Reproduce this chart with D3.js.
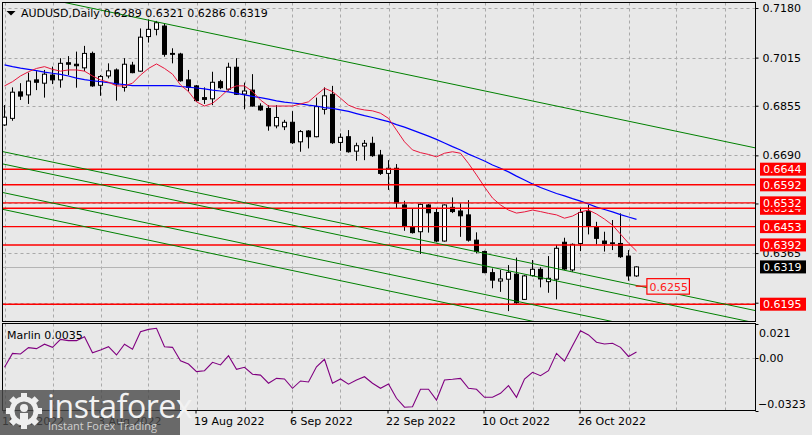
<!DOCTYPE html>
<html><head><meta charset="utf-8">
<script src="https://cdn.jsdelivr.net/npm/d3@7"></script>
<style>
html,body{margin:0;padding:0;background:#e8e8e8;overflow:hidden;}
svg{display:block;font-family:"DejaVu Sans",sans-serif;}
</style></head><body>
<svg id="c" width="812" height="435"></svg>
<script>
// ---------------- DATA ----------------
const symbolTitle = "AUDUSD,Daily";
const dates = [
"2022-07-18","2022-07-19","2022-07-20","2022-07-21","2022-07-22","2022-07-25","2022-07-26","2022-07-27","2022-07-28","2022-07-29",
"2022-08-01","2022-08-02","2022-08-03","2022-08-04","2022-08-05","2022-08-08","2022-08-09","2022-08-10","2022-08-11","2022-08-12",
"2022-08-15","2022-08-16","2022-08-17","2022-08-18","2022-08-19","2022-08-22","2022-08-23","2022-08-24","2022-08-25","2022-08-26",
"2022-08-29","2022-08-30","2022-08-31","2022-09-01","2022-09-02","2022-09-05","2022-09-06","2022-09-07","2022-09-08","2022-09-09",
"2022-09-12","2022-09-13","2022-09-14","2022-09-15","2022-09-16","2022-09-19","2022-09-20","2022-09-21","2022-09-22","2022-09-23",
"2022-09-26","2022-09-27","2022-09-28","2022-09-29","2022-09-30","2022-10-03","2022-10-04","2022-10-05","2022-10-06","2022-10-07",
"2022-10-10","2022-10-11","2022-10-12","2022-10-13","2022-10-14","2022-10-17","2022-10-18","2022-10-19","2022-10-20","2022-10-21",
"2022-10-24","2022-10-25","2022-10-26","2022-10-27","2022-10-28","2022-10-31","2022-11-01","2022-11-02","2022-11-03","2022-11-04"];
const opens = [0.6791,0.6813,0.6901,0.6891,0.6941,0.6930,0.6957,0.6941,0.6998,0.6993,
0.6981,0.7029,0.6923,0.6954,0.6974,0.6916,0.6990,0.6970,0.7085,0.7109,
0.7120,0.7029,0.7027,0.6941,0.6921,0.6882,0.6878,0.6935,0.6910,0.6983,
0.6894,0.6907,0.6854,0.6846,0.6788,0.6785,0.6800,0.6735,0.6771,0.6752,
0.6843,0.6893,0.6733,0.6752,0.6704,0.6721,0.6730,0.6691,0.6630,0.6647,
0.6525,0.6453,0.6436,0.6525,0.6500,0.6405,0.6517,0.6505,0.6492,0.6408,
0.6370,0.6300,0.6272,0.6278,0.6295,0.6211,0.6290,0.6311,0.6270,0.6278,
0.6401,0.6309,0.6397,0.6503,0.6453,0.6405,0.6399,0.6397,0.6355,0.6289];
const highs = [0.6857,0.6916,0.6930,0.6965,0.6970,0.6974,0.6985,0.7013,0.7020,0.7035,
0.7054,0.7035,0.6957,0.6996,0.6979,0.7013,0.7001,0.7112,0.7142,0.7137,
0.7127,0.7046,0.7031,0.6974,0.6924,0.6916,0.6968,0.6941,0.6998,0.7013,
0.6932,0.6960,0.6863,0.6857,0.6857,0.6808,0.6837,0.6774,0.6774,0.6882,
0.6916,0.6921,0.6763,0.6774,0.6732,0.6741,0.6752,0.6708,0.6674,0.6661,
0.6539,0.6514,0.6530,0.6528,0.6514,0.6527,0.6550,0.6530,0.6541,0.6434,
0.6373,0.6314,0.6309,0.6325,0.6350,0.6292,0.6342,0.6318,0.6355,0.6392,
0.6416,0.6397,0.6514,0.6525,0.6469,0.6436,0.6475,0.6497,0.6375,0.6321];
const lows = [0.6788,0.6805,0.6874,0.6861,0.6907,0.6882,0.6927,0.6915,0.6957,0.6915,
0.6970,0.6918,0.6888,0.6946,0.6872,0.6902,0.6963,0.6968,0.7065,0.7089,
0.7018,0.6996,0.6935,0.6902,0.6868,0.6861,0.6857,0.6910,0.6905,0.6891,
0.6843,0.6852,0.6838,0.6772,0.6780,0.6774,0.6728,0.6702,0.6713,0.6750,
0.6826,0.6728,0.6705,0.6699,0.6672,0.6674,0.6685,0.6625,0.6575,0.6514,
0.6439,0.6430,0.6362,0.6433,0.6401,0.6403,0.6498,0.6419,0.6403,0.6364,
0.6298,0.6248,0.6236,0.6172,0.6196,0.6209,0.6287,0.6251,0.6233,0.6211,
0.6309,0.6303,0.6372,0.6427,0.6394,0.6370,0.6375,0.6349,0.6273,0.6286];
const closes = [0.6817,0.6900,0.6887,0.6937,0.6933,0.6960,0.6941,0.6996,0.6993,0.6988,
0.7029,0.6921,0.6952,0.6971,0.6927,0.6993,0.6965,0.7083,0.7109,0.7131,
0.7026,0.7026,0.6938,0.6916,0.6872,0.6876,0.6933,0.6915,0.6983,0.6893,
0.6904,0.6854,0.6841,0.6788,0.6816,0.6800,0.6732,0.6769,0.6752,0.6852,
0.6888,0.6732,0.6750,0.6702,0.6722,0.6730,0.6689,0.6630,0.6647,0.6532,
0.6456,0.6433,0.6527,0.6499,0.6405,0.6525,0.6503,0.6489,0.6408,0.6370,
0.6300,0.6275,0.6279,0.6301,0.6200,0.6289,0.6311,0.6279,0.6281,0.6381,
0.6312,0.6394,0.6500,0.6455,0.6414,0.6397,0.6397,0.6353,0.6289,0.6319];
// red (fast) moving average
const maFast = [0.6921,0.6935,0.6954,0.6968,0.6979,0.6985,0.6976,0.6970,0.6974,0.6974,
0.6970,0.6954,0.6941,0.6933,0.6921,0.6921,0.6930,0.6957,0.6979,0.6994,
0.6979,0.6960,0.6924,0.6902,0.6868,0.6854,0.6863,0.6885,0.6910,0.6921,
0.6921,0.6902,0.6874,0.6854,0.6854,0.6854,0.6854,0.6861,0.6868,0.6891,
0.6913,0.6902,0.6880,0.6857,0.6846,0.6841,0.6838,0.6830,0.6813,0.6774,
0.6735,0.6708,0.6699,0.6693,0.6685,0.6697,0.6702,0.6697,0.6663,0.6625,
0.6585,0.6548,0.6525,0.6508,0.6498,0.6502,0.6508,0.6503,0.6497,0.6492,
0.6481,0.6488,0.6502,0.6508,0.6495,0.6478,0.6458,0.6428,0.6398,0.6372];
// blue (slow) moving average
const maSlow = [0.6991,0.6985,0.6980,0.6976,0.6972,0.6967,0.6963,0.6959,0.6954,0.6947,
0.6942,0.6938,0.6935,0.6932,0.6928,0.6925,0.6922,0.6922,0.6922,0.6922,
0.6922,0.6922,0.6919,0.6917,0.6914,0.6911,0.6907,0.6904,0.6901,0.6896,
0.6891,0.6886,0.6882,0.6877,0.6871,0.6867,0.6864,0.6861,0.6857,0.6854,
0.6849,0.6846,0.6841,0.6836,0.6829,0.6822,0.6816,0.6809,0.6802,0.6792,
0.6784,0.6774,0.6764,0.6754,0.6743,0.6731,0.6719,0.6708,0.6694,0.6683,
0.6671,0.6658,0.6647,0.6635,0.6621,0.6608,0.6595,0.6583,0.6573,0.6563,
0.6555,0.6546,0.6538,0.6528,0.6518,0.6510,0.6502,0.6493,0.6485,0.6477];
// Marlin oscillator
const marlin = [-0.0058,0.0027,0.0023,0.0062,0.0056,0.0083,0.0064,0.0113,0.0105,0.0105,
0.0129,0.0031,0.0048,0.0068,0.0017,0.0083,0.0052,0.0160,0.0174,0.0181,
0.0068,0.0064,-0.0018,-0.0038,-0.0085,-0.0079,-0.0028,-0.0044,0.0013,-0.0071,
-0.0058,-0.0101,-0.0106,-0.0156,-0.0126,-0.0130,-0.0187,-0.0142,-0.0148,-0.0055,
-0.0009,-0.0156,-0.0130,-0.0162,-0.0136,-0.0116,-0.0156,-0.0187,-0.0161,-0.0248,
-0.0303,-0.0300,-0.0193,-0.0193,-0.0259,-0.0136,-0.0132,-0.0126,-0.0187,-0.0193,
-0.0242,-0.0242,-0.0218,-0.0171,-0.0242,-0.0130,-0.0089,-0.0110,-0.0079,0.0027,
-0.0020,0.0074,0.0166,0.0140,0.0095,0.0084,0.0089,0.0064,0.0008,0.0035];
const marlinName = "Marlin";
const marlinRange = [-0.0323, 0.021];
const priceRange = [0.6195, 0.7180];
const priceTicks = [0.7180, 0.7015, 0.6855, 0.6690, 0.6530, 0.6365, 0.6200];
const timeTickDates = ["2022-07-18","2022-08-03","2022-08-19","2022-09-06","2022-09-22","2022-10-10","2022-10-26"];
const levelPrices = [0.6644, 0.6592, 0.6514, 0.6532, 0.6453, 0.6392, 0.6195];
// trend lines: start bar index / price, end bar index / price
const trendStartIdx = [6.5, -0.5, -0.5, -0.5, -0.5];
const trendStartPx  = [0.7204, 0.6704, 0.6663, 0.6568, 0.6512];
const trendEndIdx   = [94, 94, 94, 94, 94];
const trendEndPx    = [0.6714, 0.6173, 0.6132, 0.6036, 0.5981];
const markPrice = 0.6255, markFromIdx = 78.9, markIdx = 80.3;

// ---------------- LAYOUT ----------------
const svg = d3.select("#c");
const BG = "#e8e8e8";
const L = 2.5, R = 755.5, T = 2.5, B = 321.5, IT = 323.5, IB = 410.5;
const n = dates.length;
const x = d3.scaleLinear().domain([0, n - 1]).range([4.5, 4.5 + 8 * (n - 1)]);
const y = d3.scaleLinear().domain(priceRange).range([304.2, 8]);
const ym = d3.scaleLinear().domain(marlinRange).range([IB, IT]);
const parse = d3.timeParse("%Y-%m-%d"), fmtD = d3.timeFormat("%-d %b %Y");

svg.append("rect").attr("width", 812).attr("height", 435).attr("fill", BG);

const defs = svg.append("defs");
defs.append("clipPath").attr("id", "mainClip").append("rect").attr("x", L).attr("y", T).attr("width", R - L).attr("height", B - T);
defs.append("clipPath").attr("id", "indClip").append("rect").attr("x", L).attr("y", IT).attr("width", R - L).attr("height", IB - IT);

const main = svg.append("g").attr("clip-path", "url(#mainClip)");
const ind = svg.append("g").attr("clip-path", "url(#indClip)");
const gridColor = "#a9a9a9";

// vertical grid
const gridIdx = d3.range(0, 96, 6);
[[main, T, B], [ind, IT, IB]].forEach(([g, a, b]) => {
  g.selectAll(null).data(gridIdx).join("line")
    .attr("x1", d => Math.round(x(d)) + 0.5).attr("x2", d => Math.round(x(d)) + 0.5)
    .attr("y1", a).attr("y2", b).attr("stroke", gridColor).attr("stroke-dasharray", "3,3");
});
// horizontal grid main
main.selectAll(null).data(priceTicks).join("line")
  .attr("x1", L).attr("x2", R).attr("y1", d => Math.round(y(d)) + 0.5).attr("y2", d => Math.round(y(d)) + 0.5)
  .attr("stroke", gridColor).attr("stroke-dasharray", "3,3");
// indicator zero grid
ind.append("line").attr("x1", L).attr("x2", R).attr("y1", Math.round(ym(0)) + 0.5).attr("y2", Math.round(ym(0)) + 0.5)
  .attr("stroke", gridColor).attr("stroke-dasharray", "3,3");

// current price line
const last = closes[n - 1];
main.append("line").attr("x1", L).attr("x2", R).attr("y1", Math.round(y(last)) + 0.5).attr("y2", Math.round(y(last)) + 0.5)
  .attr("stroke", "#b4b4b4");

// candles
const idx = d3.range(n);
const cg = main.append("g");
cg.selectAll(null).data(idx).join("line")
  .attr("x1", i => x(i)).attr("x2", i => x(i))
  .attr("y1", i => y(highs[i])).attr("y2", i => y(lows[i]))
  .attr("stroke", "#000").attr("stroke-width", 1);
cg.selectAll(null).data(idx).join("rect")
  .attr("x", i => x(i) - 2)
  .attr("width", 4)
  .attr("y", i => y(Math.max(opens[i], closes[i])))
  .attr("height", i => Math.max(0.01, Math.abs(y(opens[i]) - y(closes[i]))))
  .attr("fill", i => closes[i] >= opens[i] ? "#fff" : "#000")
  .attr("stroke", "#000").attr("stroke-width", 1);

// moving averages
const lineGen = arr => d3.line().x((d, i) => x(i)).y(d => y(d))(arr);
main.append("path").attr("d", lineGen(maSlow)).attr("fill", "none").attr("stroke", "#0000ff").attr("stroke-width", 1.2);
main.append("path").attr("d", lineGen(maFast)).attr("fill", "none").attr("stroke", "#e8163c").attr("stroke-width", 1);

// horizontal level lines
main.selectAll(null).data(levelPrices).join("line")
  .attr("x1", L).attr("x2", R).attr("y1", d => y(d)).attr("y2", d => y(d))
  .attr("stroke", "#ff0000").attr("stroke-width", 1.4);

// trend lines
main.selectAll(null).data(d3.range(trendStartIdx.length)).join("line")
  .attr("x1", k => x(trendStartIdx[k])).attr("y1", k => y(trendStartPx[k]))
  .attr("x2", k => x(trendEndIdx[k])).attr("y2", k => y(trendEndPx[k]))
  .attr("stroke", "#008000").attr("stroke-width", 1);

// price marker 0.6255
main.append("line").attr("x1", x(markFromIdx)).attr("x2", x(markIdx)).attr("y1", y(markPrice)).attr("y2", y(markPrice))
  .attr("stroke", "#ff0000").attr("stroke-width", 1.2);
const mk = main.append("g");
const mkText = mk.append("text").attr("x", x(markIdx) + 2.5).attr("y", y(markPrice) + 4.5)
  .attr("font-size", 11).attr("fill", "#ff2020").text(markPrice.toFixed(4));
const mw = mkText.node().getComputedTextLength();
mk.insert("rect", "text").attr("x", x(markIdx)).attr("y", y(markPrice) - 7.5).attr("width", mw + 4).attr("height", 15.5)
  .attr("fill", BG).attr("stroke", "#ff0000").attr("stroke-width", 1.2);

// header
const hdr = svg.append("g");
hdr.append("path").attr("d", "M6.5,11 L15.5,11 L11,15.5 Z").attr("fill", "#000");
hdr.append("text").attr("x", 21).attr("y", 16.5).attr("font-size", 11).attr("fill", "#000")
  .text(symbolTitle + "  " + [opens[n-1], highs[n-1], lows[n-1], closes[n-1]].map(v => v.toFixed(4)).join(" "));

// marlin line
ind.append("path").attr("d", d3.line().x((d, i) => x(i)).y(d => ym(d))(marlin))
  .attr("fill", "none").attr("stroke", "#800080").attr("stroke-width", 1.1);
svg.append("text").attr("x", 7).attr("y", 339).attr("font-size", 11).attr("fill", "#000")
  .text(marlinName + " " + marlin[n - 1].toFixed(4));

// panel borders
svg.append("rect").attr("x", L).attr("y", T).attr("width", R - L).attr("height", B - T).attr("fill", "none").attr("stroke", "#000");
svg.append("rect").attr("x", L).attr("y", IT).attr("width", R - L).attr("height", IB - IT).attr("fill", "none").attr("stroke", "#000");

// price axis (labels that sit under a level label are covered, as in the terminal)
const covered = v => levelPrices.some(p => Math.abs(y(p) - y(v)) < 6);
const pa = svg.append("g").attr("transform", `translate(${R},0)`)
  .call(d3.axisRight(y).tickValues(priceTicks).tickSize(3).tickPadding(4)
    .tickFormat(v => covered(v) ? "" : d3.format(".4f")(v)));
pa.select(".domain").remove();
pa.selectAll("text").attr("font-family", "DejaVu Sans").attr("font-size", 11).attr("fill", "#000").attr("x", 7);
pa.selectAll("line").attr("stroke", "#000");

// level labels
const lab = svg.append("g");
levelPrices.forEach(p => {
  lab.append("rect").attr("x", 760).attr("y", y(p) - 6.5).attr("width", 46).attr("height", 13).attr("fill", "#ff0000");
  lab.append("text").attr("x", 763).attr("y", y(p) + 4.2).attr("font-size", 11).attr("fill", "#fff").text(p.toFixed(4));
});
lab.append("rect").attr("x", 760).attr("y", y(last) - 6.5).attr("width", 46).attr("height", 13).attr("fill", "#000");
lab.append("text").attr("x", 763).attr("y", y(last) + 4.2).attr("font-size", 11).attr("fill", "#fff").text(last.toFixed(4));

// indicator axis labels
const mfmt = [d3.format(".3f")(marlinRange[1]), "0.00", d3.format(".4f")(marlinRange[0])];
const ma = svg.append("g").attr("font-size", 11).attr("fill", "#000");
ma.append("text").attr("x", 759).attr("y", ym(marlinRange[1]) + 13).text(mfmt[0]);
ma.append("text").attr("x", 759).attr("y", ym(0) + 4).text(mfmt[1]);
ma.append("text").attr("x", 758).attr("y", ym(marlinRange[0]) - 2.5).text(mfmt[2]);
[marlinRange[1], 0, marlinRange[0]].forEach(v => {
  svg.append("line").attr("x1", R).attr("x2", R + 3).attr("y1", Math.round(ym(v)) + 0.5).attr("y2", Math.round(ym(v)) + 0.5).attr("stroke", "#000");
});

// time axis
const tIdx = timeTickDates.map(d => dates.indexOf(d));
const ta = svg.append("g").attr("transform", `translate(0,${IB})`)
  .call(d3.axisBottom(x).tickValues(tIdx).tickSize(3).tickPadding(3).tickFormat(i => fmtD(parse(dates[i]))));
ta.select(".domain").remove();
ta.selectAll("line").attr("stroke", "#000").attr("transform", "translate(-1,0)");
ta.selectAll("text").attr("font-family", "DejaVu Sans").attr("font-size", 11).attr("fill", "#000")
  .attr("text-anchor", "start").attr("dx", -3).attr("y", 7).attr("dy", "0.71em");

// logo
const lg = svg.append("g");
lg.append("rect").attr("x", 0).attr("y", 390).attr("width", 180).attr("height", 45).attr("fill", "rgba(72,72,72,0.8)");
const gc = [24, 411];
const gear = lg.append("g").attr("transform", `translate(${gc[0]},${gc[1]})`);
gear.append("circle").attr("r", 12).attr("fill", "none").attr("stroke", "#eee").attr("stroke-width", 5);
d3.range(8).forEach(k => {
  gear.append("rect").attr("x", -3).attr("y", -18).attr("width", 6).attr("height", 7).attr("fill", "#eee")
    .attr("transform", `rotate(${k * 45})`);
});
gear.append("circle").attr("r", 4).attr("cy", -3).attr("fill", "#eee");
gear.append("rect").attr("x", -4).attr("y", 2).attr("width", 8).attr("height", 9).attr("fill", "#eee");
lg.append("text").attr("x", 47).attr("y", 418).attr("font-family", "Open Sans").attr("font-size", 32)
  .attr("fill", "#f2f2f2").attr("letter-spacing", -0.5).text("instaforex");
lg.append("text").attr("x", 48).attr("y", 430).attr("font-family", "Open Sans").attr("font-size", 11)
  .attr("fill", "#d0d0d0").text("Instant Forex Trading");
</script>
</body></html>
